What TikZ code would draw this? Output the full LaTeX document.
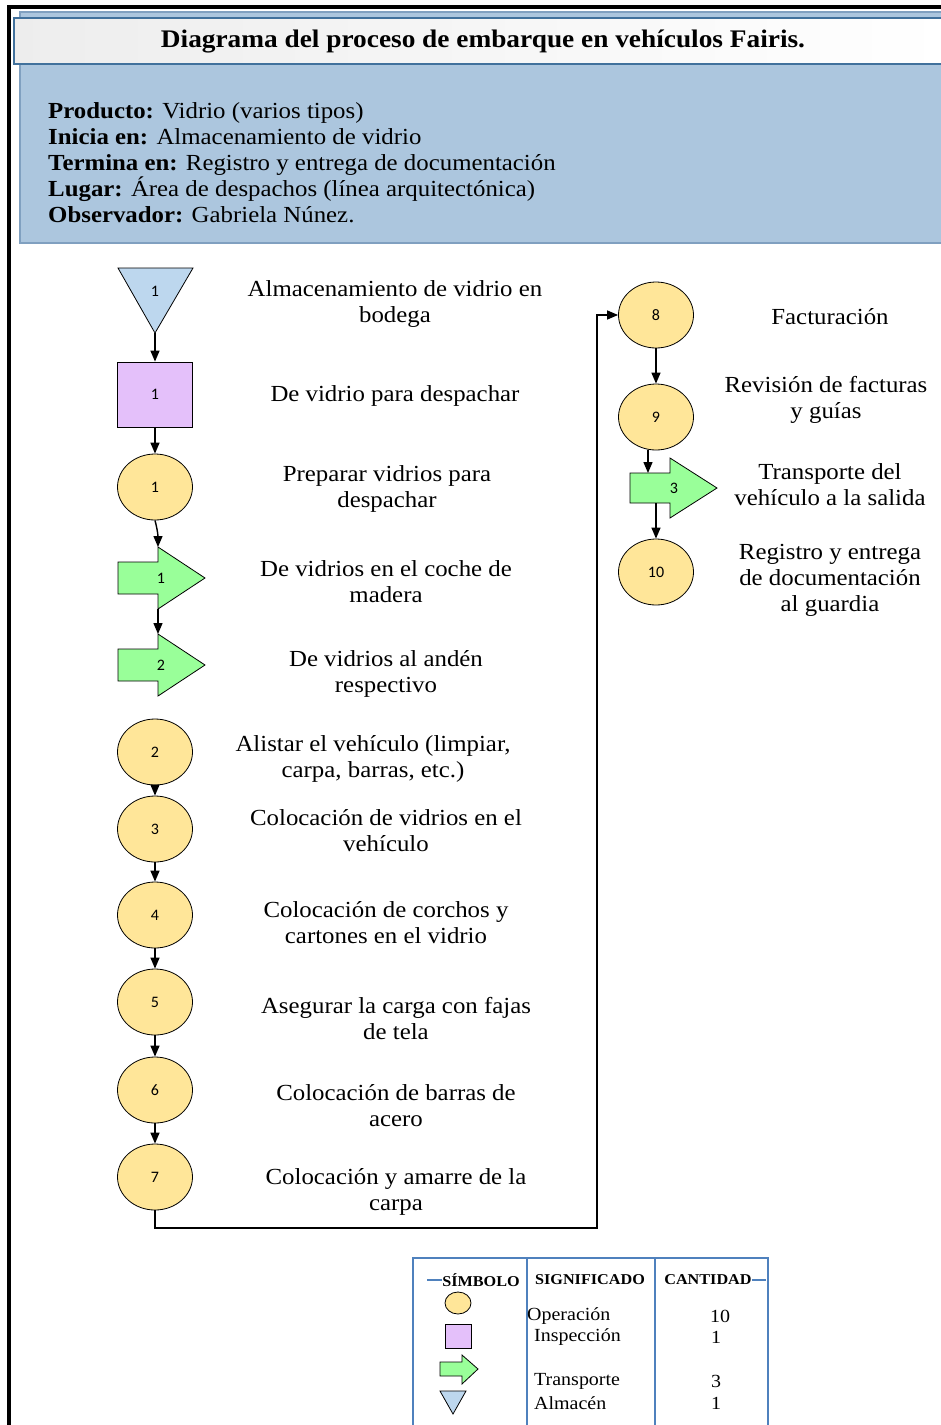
\documentclass[tikz,border=0pt]{standalone}
\usepackage{fontspec}
\setmainfont{Liberation Serif}[FakeStretch=1.08]
\newfontfamily\numfont{Carlito}
\usetikzlibrary{shapes.geometric, arrows.meta}
\definecolor{opfill}{RGB}{255,230,153}
\definecolor{inspfill}{RGB}{228,192,250}
\definecolor{trnfill}{RGB}{153,255,153}
\definecolor{storefill}{RGB}{189,215,238}
\definecolor{hdrfill}{RGB}{172,198,222}
\definecolor{hdrline}{RGB}{128,160,192}
\definecolor{titleline}{RGB}{65,113,156}
\definecolor{tblline}{RGB}{79,129,189}
\begin{document}
\begin{tikzpicture}[x=1pt, y=-1pt,
  every node/.style={font=\fontsize{23}{26}\selectfont, inner sep=0pt},
  opn/.style={ellipse, draw, line width=0.8pt, fill=opfill, minimum width=75pt, minimum height=66pt, font=\numfont\fontsize{16}{16}\selectfont},
  insp/.style={rectangle, draw, line width=0.8pt, fill=inspfill, minimum width=75pt, minimum height=65pt, font=\numfont\fontsize{16}{16}\selectfont},
  num/.style={font=\numfont\fontsize{16}{16}\selectfont},
  trn/.style={draw, line width=0.8pt, fill=trnfill},
  store/.style={draw, line width=0.8pt, fill=storefill},
  flow/.style={-{Triangle[width=9pt,length=11pt]}, line width=1.4pt},
  desc/.style={align=center},
  legtxt/.style={font=\fontsize{18.5}{18.5}\selectfont},
  leghead/.style={font=\bfseries\fontsize{15}{15}\selectfont}]
\useasboundingbox (0,0) rectangle (941,1425);
% frame and header
\draw[line width=3.5pt] (9,1430) -- (9,7) -- (950,7);
\draw[fill=hdrfill, draw=hdrline, line width=1.5pt] (20,12) rectangle (950,243);
\draw[left color=gray!14, right color=white, draw=titleline, line width=1.2pt] (14,18) rectangle (950,64);
\node[font=\bfseries\fontsize{25.3}{26}\selectfont] (title) at (483,41) {Diagrama del proceso de embarque en vehículos Fairis.};
\node[anchor=west, align=left] (info) at (48,163) {\textbf{Producto:} Vidrio (varios tipos)\\
  \textbf{Inicia en:} Almacenamiento de vidrio\\
  \textbf{Termina en:} Registro y entrega de documentación\\
  \textbf{Lugar:} Área de despachos (línea arquitectónica)\\
  \textbf{Observador:} Gabriela Núnez.};
% left column symbols
\draw[store] (118,268) -- (193,268) -- (155,333) -- cycle;
\node[num] (a1) at (155,291) {1};
\coordinate (a1tip) at (155,333);
\node[insp] (i1) at (155,394.5) {1};
\node[opn] (o1) at (155,487) {1};
\draw[trn] (118,562) -- ++(40,0) -- ++(0,-15) -- ++(47,31) -- ++(-47,31) -- ++(0,-15) -- ++(-40,0) -- cycle;
\node[num] (t1) at (161,578) {1};
\coordinate (t1in) at (158,547);
\coordinate (t1out) at (158,609);
\draw[trn] (118,649) -- ++(40,0) -- ++(0,-15) -- ++(47,31) -- ++(-47,31) -- ++(0,-15) -- ++(-40,0) -- cycle;
\node[num] (t2) at (161,665) {2};
\coordinate (t2in) at (158,634);
\node[opn] (o2) at (155,752) {2};
\node[opn] (o3) at (155,829) {3};
\node[opn] (o4) at (155,915) {4};
\node[opn] (o5) at (155,1002) {5};
\node[opn] (o6) at (155,1090) {6};
\node[opn] (o7) at (155,1177) {7};
% right column symbols
\node[opn] (o8) at (656,315) {8};
\node[opn] (o9) at (656,417) {9};
\draw[trn] (630,473) -- ++(40,0) -- ++(0,-15) -- ++(47,30) -- ++(-47,30) -- ++(0,-15) -- ++(-40,0) -- cycle;
\node[num] (t3) at (674,488) {3};
\coordinate (t3in) at (648,473);
\coordinate (t3out) at (656,503);
\node[opn] (o10) at (656,572) {10};
\coordinate (bend) at (597,1228);
% connectors
\draw[flow] (a1tip) -- (i1);
\draw[flow] (i1) -- (o1);
\draw[flow] (o1.south) to[out=-75, in=90] (t1in);
\draw[flow] (t1out) -- (t2in);
\draw[flow] (o2) -- (o3);
\draw[flow] (o3) -- (o4);
\draw[flow] (o4) -- (o5);
\draw[flow] (o5) -- (o6);
\draw[flow] (o6) -- (o7);
\draw[flow] (o7.south) |- (bend) |- (o8.west);
\draw[flow] (o8) -- (o9);
\draw[flow] (o9.south -| t3in) -- (t3in);
\draw[flow] (t3out) -- (o10);
% descriptions
\node[desc] (da1) at (395,304) {Almacenamiento de vidrio en\\bodega};
\node[desc] (di1) at (395,396) {De vidrio para despachar};
\node[desc] (do1) at (387,489) {Preparar vidrios para\\despachar};
\node[desc] (dt1) at (386,582) {De vidrios en el coche de\\madera};
\node[desc] (dt2) at (386,674) {De vidrios al andén\\respectivo};
\node[desc] (do2) at (373,759) {Alistar el vehículo (limpiar,\\carpa, barras, etc.)};
\node[desc] (do3) at (386,831) {Colocación de vidrios en el\\vehículo};
\node[desc] (do4) at (386,923) {Colocación de corchos y\\cartones en el vidrio};
\node[desc] (do5) at (396,1019) {Asegurar la carga con fajas\\de tela};
\node[desc] (do6) at (396,1106) {Colocación de barras de\\acero};
\node[desc] (do7) at (396,1192) {Colocación y amarre de la\\carpa};
\node[desc] (do8) at (830,317) {Facturación};
\node[desc] (do9) at (826,400) {Revisión de facturas\\y guías};
\node[desc] (dt3) at (830,485) {Transporte del\\vehículo a la salida};
\node[desc] (do10) at (830,580) {Registro y entrega\\de documentación\\al guardia};
% legend table
\draw[draw=tblline, line width=1.5pt] (413,1432) -- (413,1258) -- (768,1258) -- (768,1432);
\draw[draw=tblline, line width=1.5pt] (527,1258) -- (527,1432);
\draw[draw=tblline, line width=1.5pt] (655,1258) -- (655,1432);
\node[leghead] (hsym) at (481,1280) {SÍMBOLO};
\node[leghead] (hsig) at (590,1280) {SIGNIFICADO};
\node[leghead] (hcan) at (708,1280) {CANTIDAD};
\coordinate (hl) at (427,1280);
\coordinate (hr) at (766,1280);
\draw[draw=tblline, line width=1.2pt] (hl) -- (hsym.west);
\draw[draw=tblline, line width=1.2pt] (hcan.east) -- (hr);
\node[ellipse, draw, line width=0.8pt, fill=opfill, minimum width=26pt, minimum height=22pt] (lop) at (458,1303) {};
\node[rectangle, draw, line width=0.8pt, fill=inspfill, minimum width=26pt, minimum height=24pt] (lin) at (458,1336) {};
\draw[trn] (440,1362) -- ++(22,0) -- ++(0,-7) -- ++(16,14) -- ++(-16,15) -- ++(0,-8) -- ++(-22,0) -- cycle;
\draw[store] (440,1391) -- (466,1391) -- (453,1414) -- cycle;
\node[legtxt, anchor=west] (lop1) at (527,1316) {Operación};
\node[legtxt, anchor=west] (lin1) at (534,1337) {Inspección};
\node[legtxt, anchor=west] (ltr1) at (534,1381) {Transporte};
\node[legtxt, anchor=west] (lal1) at (534,1403) {Almacén};
\node[legtxt] (lop2) at (720,1316) {10};
\node[legtxt] (lin2) at (716,1337) {1};
\node[legtxt] (ltr2) at (716,1381) {3};
\node[legtxt] (lal2) at (716,1403) {1};
\end{tikzpicture}
\end{document}
